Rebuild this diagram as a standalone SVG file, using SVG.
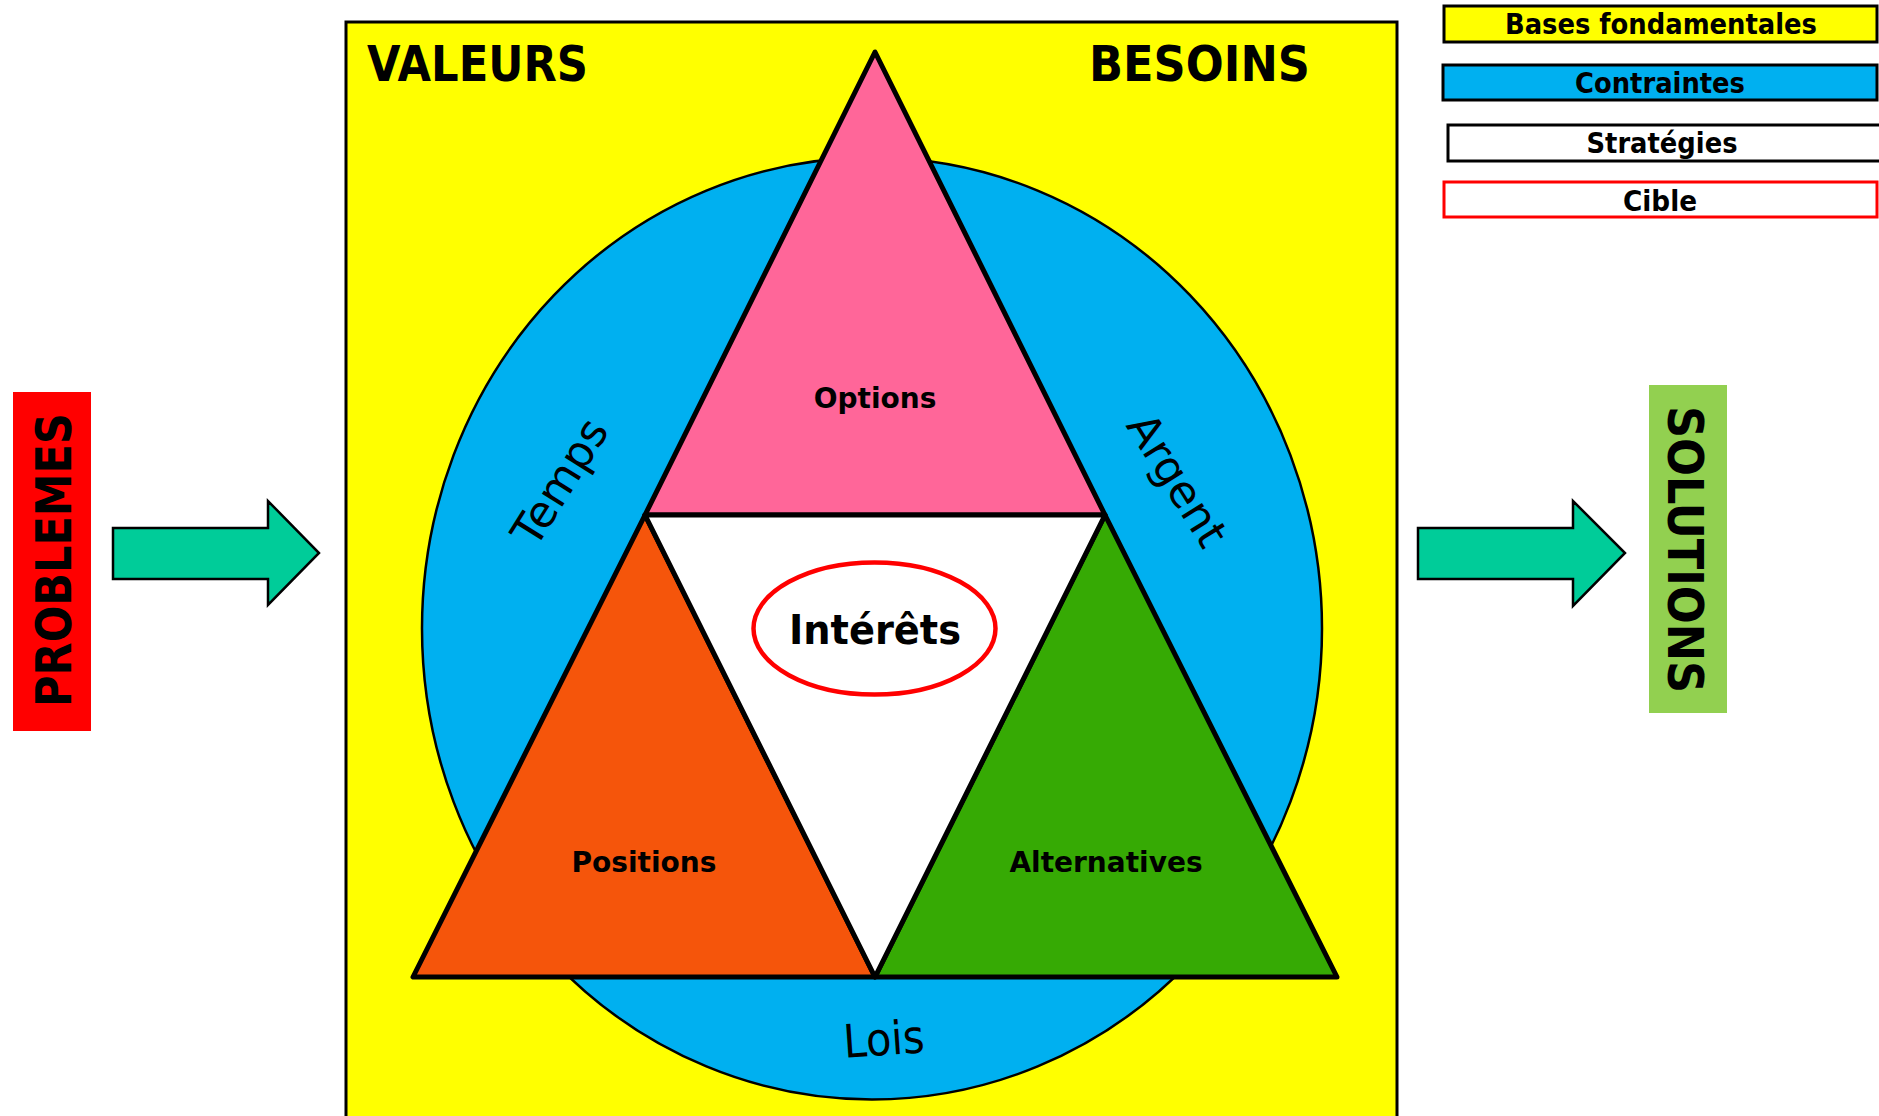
<svg xmlns="http://www.w3.org/2000/svg" width="1879" height="1116" viewBox="0 0 1879 1116">
<style>
.b{font-family:"DejaVu Sans","Verdana",sans-serif;font-weight:bold;fill:#000}
.n{font-family:"DejaVu Sans","Verdana",sans-serif;font-weight:normal;fill:#000}
.tri{stroke:#000;stroke-width:5;stroke-linejoin:round}
.leg{stroke-width:3}
.arrow{fill:#00CC99;stroke:#000;stroke-width:2.5}
</style>
<rect width="1879" height="1116" fill="#fff"/>
<g id="frame">
<rect x="346" y="22" width="1051" height="1110" fill="#FFFF00" stroke="#000" stroke-width="3"/>
<text class="b" x="367" y="81" font-size="50" textLength="221" lengthAdjust="spacingAndGlyphs">VALEURS</text>
<text class="b" x="1089" y="81" font-size="50" textLength="221" lengthAdjust="spacingAndGlyphs">BESOINS</text>
</g>
<g id="contraintes">
<ellipse cx="872" cy="628.5" rx="450" ry="471" fill="#00B0F0" stroke="#000" stroke-width="2.5"/>
<text class="n" font-size="44" text-anchor="middle" transform="translate(560,482) rotate(-58)" y="15">Temps</text>
<text class="n" font-size="44" text-anchor="middle" transform="translate(1177,480) rotate(58)" y="15">Argent</text>
<text class="n" font-size="46" text-anchor="middle" textLength="81" lengthAdjust="spacingAndGlyphs" transform="translate(885,1055) rotate(-4)">Lois</text>
</g>
<g id="options">
<polygon class="tri" points="875,52 645,515 1105,515" fill="#FF6699"/>
<text class="b" x="875" y="408" font-size="28" text-anchor="middle">Options</text>
</g>
<g id="positions">
<polygon class="tri" points="645,515 413,977 875,977" fill="#F5550B"/>
<text class="b" x="644" y="872" font-size="28" text-anchor="middle">Positions</text>
</g>
<g id="alternatives">
<polygon class="tri" points="1105,515 875,977 1337,977" fill="#36AA04"/>
<text class="b" x="1106" y="872" font-size="28" text-anchor="middle">Alternatives</text>
</g>
<g id="interets">
<polygon class="tri" points="645,515 1105,515 875,977" fill="#fff"/>
<ellipse cx="874.5" cy="628.5" rx="121" ry="66" fill="none" stroke="#FF0000" stroke-width="4.5"/>
<text class="b" x="875" y="644" font-size="41" text-anchor="middle" textLength="172" lengthAdjust="spacingAndGlyphs">Intérêts</text>
</g>
<g id="problemes">
<rect x="13" y="392" width="78" height="339" fill="#FF0000"/>
<text class="b" font-size="49" text-anchor="middle" textLength="294" lengthAdjust="spacingAndGlyphs" transform="translate(71,560) rotate(-90)">PROBLEMES</text>
</g>
<g id="solutions">
<rect x="1649" y="385" width="78" height="328" fill="#92D050"/>
<text class="b" font-size="49" text-anchor="middle" textLength="287" lengthAdjust="spacingAndGlyphs" transform="translate(1668,549.5) rotate(90)">SOLUTIONS</text>
</g>
<g id="legend">
<g id="leg-bases"><rect class="leg" x="1444" y="6" width="433" height="36" fill="#FFFF00" stroke="#000"/>
<text class="b" x="1661" y="34" font-size="28" text-anchor="middle" textLength="312" lengthAdjust="spacingAndGlyphs">Bases fondamentales</text></g>
<g id="leg-contraintes"><rect class="leg" x="1443" y="65" width="434" height="35" fill="#00B0F0" stroke="#000"/>
<text class="b" x="1660" y="93" font-size="28" text-anchor="middle" textLength="170" lengthAdjust="spacingAndGlyphs">Contraintes</text></g>
<g id="leg-strategies"><rect class="leg" x="1448" y="125" width="433" height="36" fill="#fff" stroke="#000"/>
<text class="b" x="1662" y="153" font-size="28" text-anchor="middle" textLength="151" lengthAdjust="spacingAndGlyphs">Stratégies</text></g>
<g id="leg-cible"><rect class="leg" x="1444" y="182" width="433" height="35" fill="#fff" stroke="#FF0000"/>
<text class="b" x="1660" y="211" font-size="28" text-anchor="middle" textLength="74" lengthAdjust="spacingAndGlyphs">Cible</text></g>
</g>
<g id="connectors">
<polygon class="arrow" points="113,528 268,528 268,501 319,553 268,605 268,579 113,579"/>
<polygon class="arrow" points="1418,528 1573,528 1573,501 1625,553 1573,606 1573,579 1418,579"/>
</g>
</svg>
